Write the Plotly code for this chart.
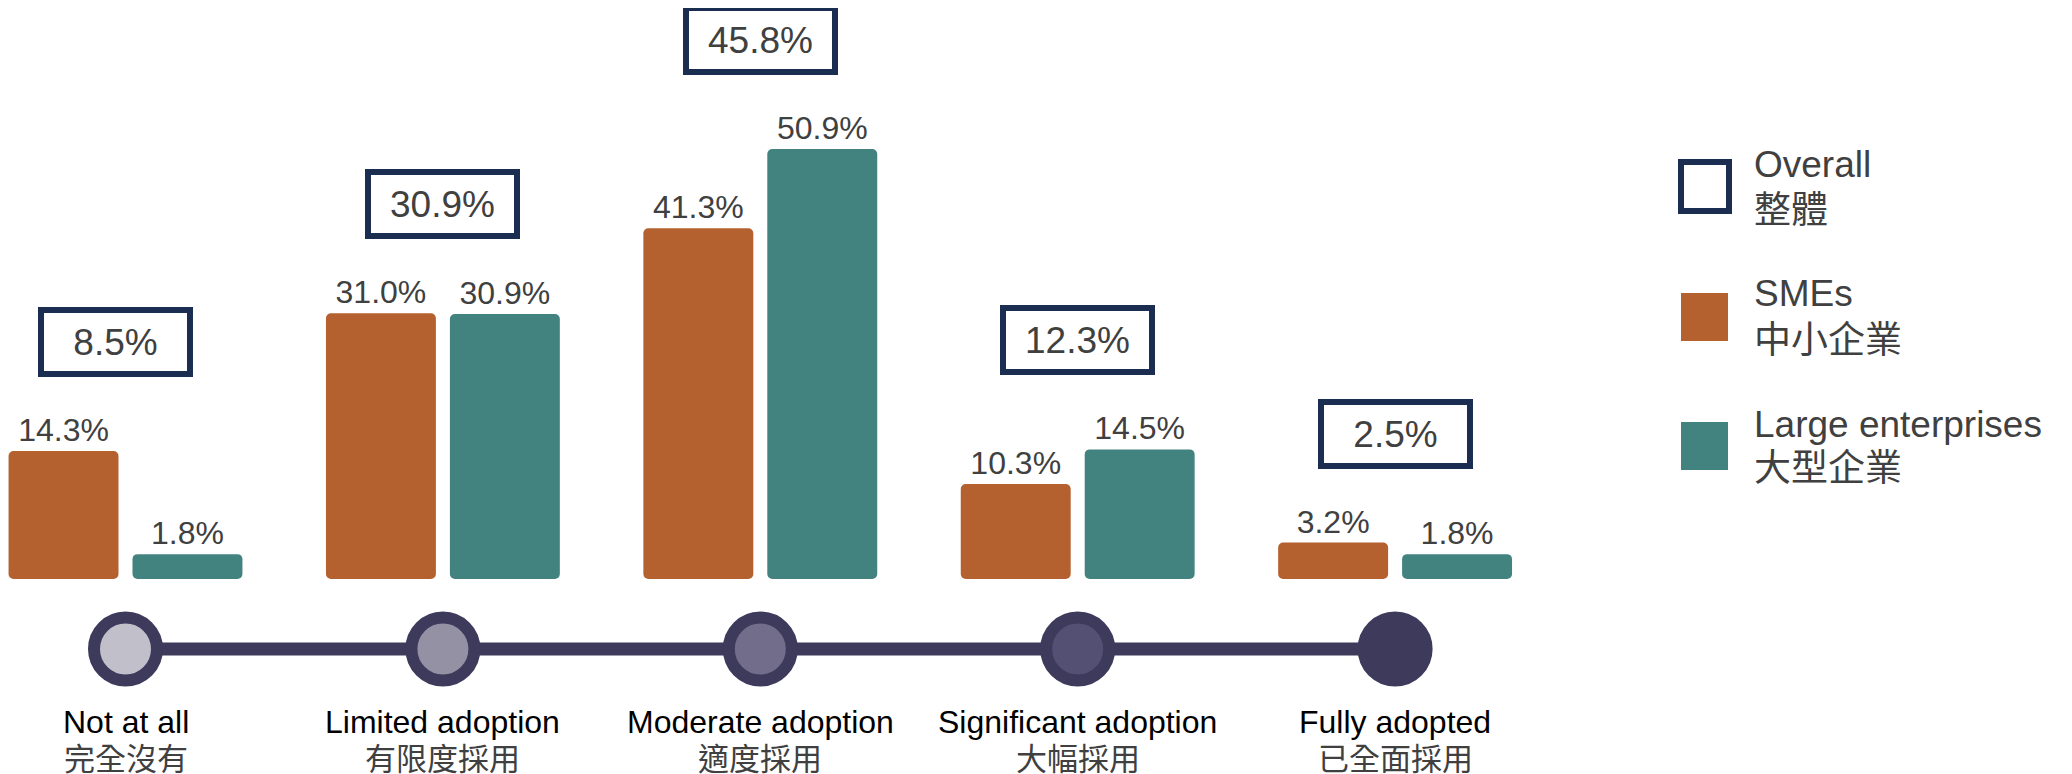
import plotly.graph_objects as go

# ---------------- data ----------------
categories_en = ["Not at all", "Limited adoption", "Moderate adoption",
                 "Significant adoption", "Fully adopted"]
categories_zh = ["完全沒有", "有限度採用", "適度採用", "大幅採用", "已全面採用"]
overall = [8.5, 30.9, 45.8, 12.3, 2.5]
smes = [14.3, 31.0, 41.3, 10.3, 3.2]
large = [1.8, 30.9, 50.9, 14.5, 1.8]

legend_en = ["Overall", "SMEs", "Large enterprises"]
legend_zh = ["整體", "中小企業", "大型企業"]

# ---------------- style ----------------
OFF = 8                      # default page body margin
W, H = 2072 - OFF, 774 - OFF
C_SME = "#b5612f"
C_LE = "#42827f"
C_NAVY = "#1b2d51"
C_RING = "#3d3a5c"
C_TEXT = "#404040"
STAGE_FILL = ["#c0bfca", "#9491a5", "#716d8b", "#545073", C_RING]
EN_FONT = "Liberation Sans, Arial, sans-serif"
ZH_FONT = "Noto Sans CJK TC, Noto Sans CJK SC, sans-serif"

BASE = -1.2          # bars start slightly below zero
TIMELINE_Y = -9.7    # level of the stage timeline (data units)
Y_ZERO_PX = 569 - OFF
Y_SCALE = 8.25       # px per percentage point
X_FIRST_PX = 125.5 - OFF
X_STEP = 317.4


def py(px):
    """screen pixel row -> paper y"""
    return 1 - (px - OFF) / H


def pxx(px):
    """screen pixel column -> paper x"""
    return (px - OFF) / W


fig = go.Figure()

fig.add_trace(go.Bar(
    x=categories_en, y=[v - BASE for v in smes], base=BASE,
    name="SMEs", marker=dict(color=C_SME, cornerradius=5, line=dict(width=0)),
    text=[f"{v:.1f}%" for v in smes], textposition="outside",
    textfont=dict(family=EN_FONT, size=32, color=C_TEXT),
    cliponaxis=False, customdata=smes,
    hovertemplate="%{x}<br>SMEs: %{customdata:.1f}%<extra></extra>",
))
fig.add_trace(go.Bar(
    x=categories_en, y=[v - BASE for v in large], base=BASE,
    name="Large enterprises", marker=dict(color=C_LE, cornerradius=5, line=dict(width=0)),
    text=[f"{v:.1f}%" for v in large], textposition="outside",
    textfont=dict(family=EN_FONT, size=32, color=C_TEXT),
    cliponaxis=False, customdata=large,
    hovertemplate="%{x}<br>Large enterprises: %{customdata:.1f}%<extra></extra>",
))

# timeline line
fig.add_trace(go.Scatter(
    x=categories_en, y=[TIMELINE_Y] * len(categories_en), mode="lines",
    line=dict(color=C_RING, width=13), hoverinfo="skip", cliponaxis=False,
))
# stage circles
fig.add_trace(go.Scatter(
    x=categories_en, y=[TIMELINE_Y] * len(categories_en), mode="markers",
    marker=dict(size=63, color=STAGE_FILL, line=dict(color=C_RING, width=12)),
    hoverinfo="skip", cliponaxis=False,
))

annotations = []
# overall boxes
for i, (cat, ov) in enumerate(zip(categories_en, overall)):
    top = max(smes[i], large[i])
    annotations.append(dict(
        x=cat, y=top, xref="x", yref="y", yanchor="middle", xanchor="center",
        yshift=109, xshift=-10 if i == 0 else 0,
        text=f"{ov:.1f}%", showarrow=False,
        font=dict(family=EN_FONT, size=37, color=C_TEXT),
        bordercolor=C_NAVY, borderwidth=6, borderpad=0, bgcolor="white",
        width=143, height=58, align="center", valign="middle",
    ))

# category labels
for en, zh in zip(categories_en, categories_zh):
    annotations.append(dict(
        x=en, y=py(722), xref="x", yref="paper", yanchor="middle",
        text=en, showarrow=False, font=dict(family=EN_FONT, size=32, color="#000000"),
    ))
    annotations.append(dict(
        x=en, y=py(756), xref="x", yref="paper", yanchor="middle",
        text=zh, showarrow=False, font=dict(family=ZH_FONT, size=31, color=C_TEXT),
    ))

# legend (manual)
shapes = []
leg_rows = [(162, 211), (293, 341), (422, 470)]
leg_en_y = [165, 293, 424]
leg_zh_y = [207, 337, 465]
for k in range(3):
    y0, y1 = leg_rows[k]
    if k == 0:
        shapes.append(dict(type="rect", xref="paper", yref="paper",
                           x0=pxx(1681), x1=pxx(1729), y0=py(y1), y1=py(y0),
                           line=dict(color=C_NAVY, width=6), fillcolor="white"))
    else:
        shapes.append(dict(type="rect", xref="paper", yref="paper",
                           x0=pxx(1681), x1=pxx(1728), y0=py(y1), y1=py(y0),
                           line=dict(width=0), fillcolor=[C_SME, C_LE][k - 1]))
    annotations.append(dict(
        x=pxx(1752), y=py(leg_en_y[k]), xref="paper", yref="paper",
        xanchor="left", yanchor="middle", text=legend_en[k], showarrow=False,
        font=dict(family=EN_FONT, size=37, color=C_TEXT),
    ))
    annotations.append(dict(
        x=pxx(1752), y=py(leg_zh_y[k]), xref="paper", yref="paper",
        xanchor="left", yanchor="middle", text=legend_zh[k], showarrow=False,
        font=dict(family=ZH_FONT, size=37, color=C_TEXT),
    ))

x_min = -X_FIRST_PX / X_STEP
x_max = x_min + W / X_STEP
fig.update_layout(
    width=W, height=H, margin=dict(l=0, r=0, t=0, b=0),
    paper_bgcolor="white", plot_bgcolor="white",
    barmode="group", bargap=0.219, bargroupgap=0.113,
    showlegend=False,
    xaxis=dict(range=[x_min, x_max], visible=False, type="category"),
    yaxis=dict(range=[-(H - Y_ZERO_PX) / Y_SCALE, Y_ZERO_PX / Y_SCALE], visible=False),
    annotations=annotations, shapes=shapes,
    font=dict(family=EN_FONT),
)

fig.write_html("out.html")
